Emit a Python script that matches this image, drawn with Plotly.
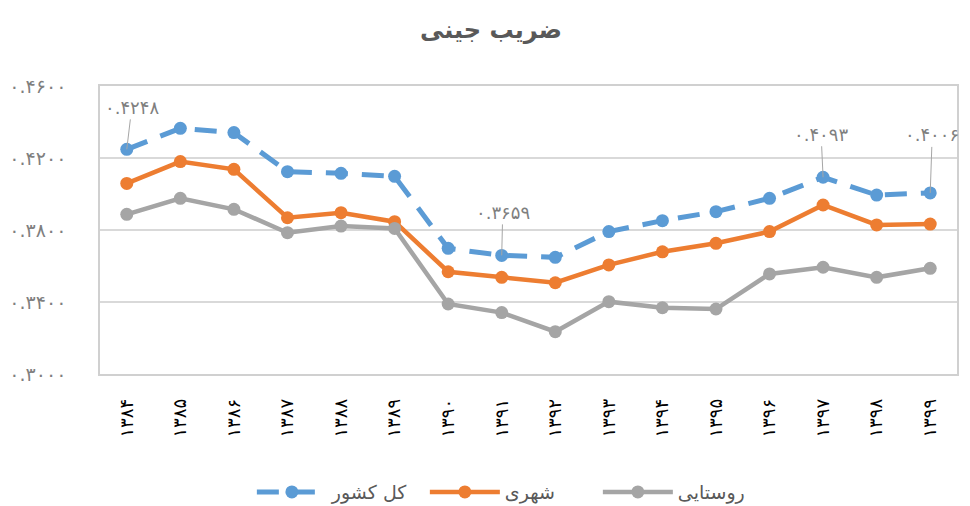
import plotly.graph_objects as go

# ---------------- data ----------------
years = ["۱۳۸۴", "۱۳۸۵", "۱۳۸۶", "۱۳۸۷", "۱۳۸۸", "۱۳۸۹", "۱۳۹۰", "۱۳۹۱",
         "۱۳۹۲", "۱۳۹۳", "۱۳۹۴", "۱۳۹۵", "۱۳۹۶", "۱۳۹۷", "۱۳۹۸", "۱۳۹۹"]
total = [0.4248, 0.4365, 0.4341, 0.4124, 0.4115, 0.4098, 0.3698, 0.3659,
         0.3648, 0.3791, 0.3852, 0.3902, 0.3976, 0.4093, 0.3994, 0.4006]
urban = [0.4059, 0.4180, 0.4137, 0.3868, 0.3896, 0.3846, 0.3568, 0.3537,
         0.3507, 0.3606, 0.3679, 0.3726, 0.3791, 0.3939, 0.3828, 0.3833]
rural = [0.3887, 0.3976, 0.3915, 0.3785, 0.3822, 0.3809, 0.3389, 0.3341,
         0.3235, 0.3402, 0.3368, 0.3361, 0.3556, 0.3593, 0.3537, 0.3587]
series_names = ["کل کشور", "شهری", "روستایی"]
title_text = "ضریب جینی"
y_tickvals = [0.30, 0.34, 0.38, 0.42, 0.46]
y_ticktext = ["۰.۳۰۰۰", "۰.۳۴۰۰", "۰.۳۸۰۰", "۰.۴۲۰۰", "۰.۴۶۰۰"]
labelled_idx = [0, 7, 13, 15]  # points of total series with data labels

FA = str.maketrans("0123456789", "۰۱۲۳۴۵۶۷۸۹")
def fa(v):
    return f"{v:.4f}".translate(FA)

FONT = "DejaVu Sans"
GRAY_TXT = "#595959"

fig = go.Figure()
fig.add_trace(go.Scatter(
    x=years, y=total, name=series_names[0], mode="lines+markers",
    line=dict(color="#5B9BD5", width=5, dash="22px,14px"),
    marker=dict(size=13, color="#5B9BD5")))
fig.add_trace(go.Scatter(
    x=years, y=urban, name=series_names[1], mode="lines+markers",
    line=dict(color="#ED7D31", width=4.5),
    marker=dict(size=13, color="#ED7D31")))
fig.add_trace(go.Scatter(
    x=years, y=rural, name=series_names[2], mode="lines+markers",
    line=dict(color="#A5A5A5", width=4.5),
    marker=dict(size=13, color="#A5A5A5")))

offsets = {0: (5, -42), 7: (1, -43), 13: (-2, -43), 15: (2, -58)}
for i in labelled_idx:
    ax, ay = offsets[i]
    fig.add_annotation(
        x=years[i], y=total[i], text=fa(total[i]), showarrow=True,
        arrowhead=0, arrowwidth=1, arrowcolor="#A6A6A6", ax=ax, ay=ay,
        font=dict(family=FONT, size=18, color="#7F7F7F"))

fig.update_layout(
    width=962, height=498,
    paper_bgcolor="white", plot_bgcolor="white",
    margin=dict(l=92, r=13, t=78, b=132, autoexpand=False),
    title=dict(text=f"<b>{title_text}</b>", x=0.502, xanchor="center",
               y=0.956, yanchor="middle",
               font=dict(family=FONT, size=24, color=GRAY_TXT)),
    font=dict(family=FONT, color=GRAY_TXT),
    showlegend=True,
    legend=dict(orientation="h", x=0.48, xanchor="center", y=-0.41,
                yanchor="middle", font=dict(family=FONT, size=19, color=GRAY_TXT),
                itemwidth=70, entrywidth=88, traceorder="normal"),
    xaxis=dict(type="category", range=[-0.5, len(years) - 0.5],
               tickangle=-90, showgrid=False,
               showline=True, linecolor="#D0D0D0", linewidth=1.5, mirror=True,
               ticks="", tickfont=dict(family=FONT, size=18, color="#000000"),
               ticklabelstandoff=16),
    yaxis=dict(range=[0.30, 0.46], tickvals=y_tickvals, ticktext=y_ticktext,
               showgrid=True, gridcolor="#D9D9D9", gridwidth=1.5,
               showline=True, linecolor="#D0D0D0", linewidth=1.5, mirror=True,
               zeroline=False, ticks="",
               tickfont=dict(family=FONT, size=19, color="#7F7F7F"),
               ticklabelstandoff=28),
)

fig.write_html("out.html")
